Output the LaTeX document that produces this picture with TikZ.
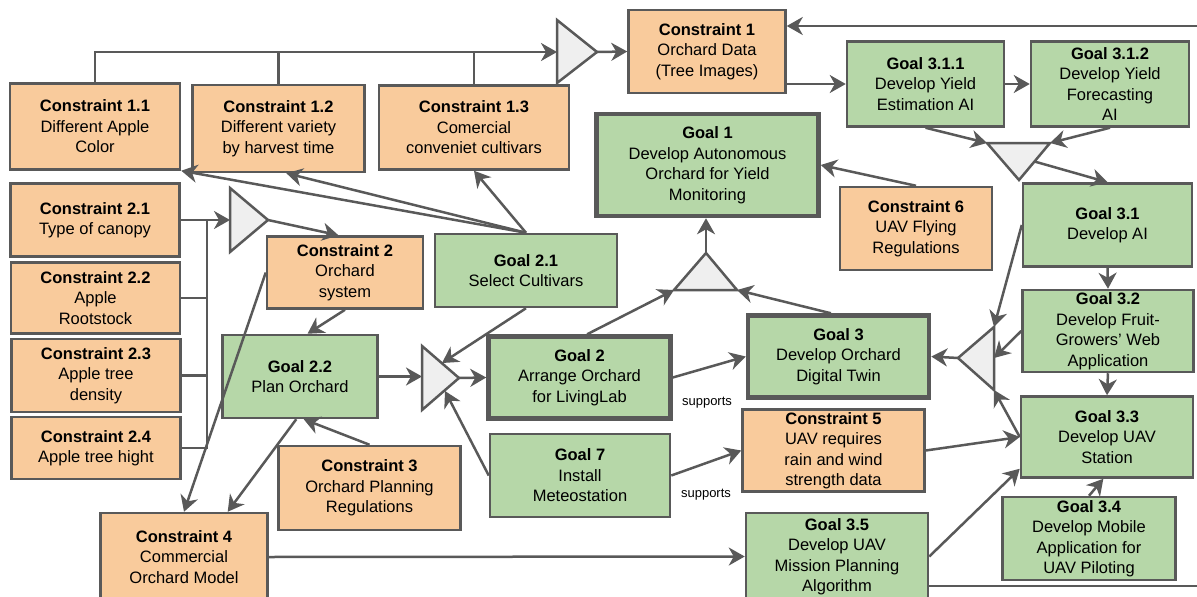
\documentclass[tikz,border=0pt]{standalone}
\usepackage{fontspec}
\setmainfont{Liberation Sans}
\usetikzlibrary{arrows.meta}
\definecolor{constrfill}{HTML}{F9CB9C}
\definecolor{goalfill}{HTML}{B6D7A8}
\definecolor{edgegray}{HTML}{595959}
\definecolor{gatefill}{HTML}{EFEFEF}
\tikzset{box/.style = {draw=edgegray, line width=2.5pt, align=center, inner sep=0pt,
                       font=\fontsize{16.5}{20.5}\selectfont}}
\tikzset{wh/.style 2 args = {minimum width=#1, minimum height=#2}}
\tikzset{constr/.style = {box, fill=constrfill}}
\tikzset{goal/.style = {box, fill=goalfill}}
\tikzset{mainbox/.style = {line width=4.5pt}}
\tikzset{gate/.style = {draw=edgegray, fill=gatefill, line width=2.5pt}}
\tikzset{link/.style = {draw=edgegray, line width=2.5pt}}
\tikzset{arr/.style = {link, -{Stealth[length=16pt, width=18pt, inset=5pt]}}}
\tikzset{lbl/.style = {font=\fontsize{13}{15}\selectfont}}

\begin{document}
\begin{tikzpicture}[x=1pt, y=-1pt]
      \useasboundingbox (0,0) rectangle (1197,597);
      \clip (0,0) rectangle (1197,597);
      \node [constr, wh={170pt}{86pt}] (c11) at (95,126.5) {\textbf{Constraint 1.1}\\Different Apple\\Color};
      \node [constr, wh={172pt}{87pt}] (c12) at (278.5,128.5) {\textbf{Constraint 1.2}\\Different variety\\by harvest time};
      \node [constr, wh={190pt}{84pt}] (c13) at (474,127.5) {\textbf{Constraint 1.3}\\Comercial\\conveniet cultivars};
      \node [constr, wh={157pt}{83pt}] (c1) at (707,51.5) {\textbf{Constraint 1}\\Orchard Data\\(Tree Images)};
      \node [goal, wh={157pt}{85pt}] (g311) at (925.5,84) {\textbf{Goal 3.1.1}\\Develop Yield\\Estimation AI};
      \node [goal, wh={158pt}{85pt}] (g312) at (1110,84) {\textbf{Goal 3.1.2}\\Develop Yield\\Forecasting\\AI};
      \node [goal, mainbox, wh={222pt}{102pt}] (g1) at (707.5,165) {\textbf{Goal 1}\\Develop Autonomous\\Orchard for Yield\\Monitoring};
      \node [constr, wh={152pt}{83pt}] (c6) at (916,228.5) {\textbf{Constraint 6}\\UAV Flying\\Regulations};
      \node [goal, wh={169pt}{83pt}] (g31) at (1107.5,225) {\textbf{Goal 3.1}\\Develop AI};
      \node [constr, wh={169pt}{73pt}] (c21) at (95,220) {\textbf{Constraint 2.1}\\Type of canopy};
      \node [constr, wh={169pt}{71pt}] (c22) at (95.5,298) {\textbf{Constraint 2.2}\\Apple\\Rootstock};
      \node [constr, wh={169pt}{73pt}] (c23) at (96,375.5) {\textbf{Constraint 2.3}\\Apple tree\\density};
      \node [constr, wh={169pt}{62pt}] (c24) at (96,448) {\textbf{Constraint 2.4}\\Apple tree hight};
      \node [constr, wh={156pt}{72pt}] (c2) at (345,272.5) {\textbf{Constraint 2}\\Orchard\\system};
      \node [goal, wh={182pt}{73pt}] (g21) at (526,270.5) {\textbf{Goal 2.1}\\Select Cultivars};
      \node [goal, wh={155pt}{83pt}] (g22) at (300,376.5) {\textbf{Goal 2.2}\\Plan Orchard};
      \node [goal, mainbox, wh={182pt}{82pt}] (g2) at (579.5,377.5) {\textbf{Goal 2}\\Arrange Orchard\\for LivingLab};
      \node [goal, mainbox, wh={181pt}{82pt}] (g3) at (838.5,356.5) {\textbf{Goal 3}\\Develop Orchard\\Digital Twin};
      \node [goal, wh={171pt}{82pt}] (g32) at (1108,331) {\textbf{Goal 3.2}\\Develop Fruit-\\Growers’ Web\\Application};
      \node [goal, wh={172pt}{81pt}] (g33) at (1107,437) {\textbf{Goal 3.3}\\Develop UAV\\Station};
      \node [goal, wh={180pt}{83pt}] (g7) at (580,475.5) {\textbf{Goal 7}\\Install\\Meteostation};
      \node [constr, wh={182pt}{82pt}] (c5) at (833.5,450.5) {\textbf{Constraint 5}\\UAV requires\\rain and wind\\strength data};
      \node [constr, wh={182pt}{84pt}] (c3) at (369.5,488) {\textbf{Constraint 3}\\Orchard Planning\\Regulations};
      \node [constr, wh={167pt}{88pt}] (c4) at (184,557) {\textbf{Constraint 4}\\Commercial\\Orchard Model};
      \node [goal, wh={182pt}{87pt}] (g35) at (837,556.5) {\textbf{Goal 3.5}\\Develop UAV\\Mission Planning\\Algorithm};
      \node [goal, wh={173pt}{83pt}] (g34) at (1089,538.5) {\textbf{Goal 3.4}\\Develop Mobile\\Application for\\UAV Piloting};
      \node [lbl] (sup1) at (707,403) {supports};
      \node [lbl] (sup2) at (706,495) {supports};
      \draw [gate] (557,20) -- (597,52) coordinate (t1out) -- (557,83) -- cycle;
      \draw [gate] (230,188) -- (268,220) coordinate (t2out) -- (230,252) -- cycle;
      \draw [gate] (422,346) -- (459,378) coordinate (t3out) -- (422,410) -- cycle;
      \draw [gate] (674,290) coordinate (t4l) -- (706,253) coordinate (t4top) -- (737,290) coordinate (t4r) -- cycle;
      \draw [gate] (987,143) coordinate (t5l) -- (1050,143) coordinate (t5r) -- (1019,180) -- cycle;
      \draw [gate] (994,327) coordinate (t6a) -- (958,358) coordinate (t6out) -- (994,390) coordinate (t6c) -- cycle;
      \coordinate (t1in) at (557,52);
      \coordinate (t2in) at (230,220);
      \coordinate (t3in) at (422,378);
      \coordinate (t3u) at (442,363);
      \coordinate (t3d) at (445,391);
      \coordinate (t5out) at (1034.5,161.5);
      \coordinate (t6b) at (994,358);
      \coordinate (bus2) at (207,220);
      \coordinate (loopin) at (1197,26);
      \coordinate (loopout) at (1197,586);
      \draw [link] (c12.north) -- (c12.north |- t1in);
      \draw [link] (c13.north) -- (c13.north |- t1in);
      \draw [arr] (c11.north) |- (t1in);
      \draw [arr] (t1out) -- (c1.west);
      \draw [arr] (g21.north) -- (c11.south east);
      \draw [arr] (g21.north) -- (c12.-80);
      \draw [arr] (g21.north) -- (c13.south);
      \draw [arr] (c21.east) -- (t2in);
      \draw [link] (c24.east) -| (bus2);
      \draw [link] (c22.east) -- (c22.east -| bus2);
      \draw [link] (c23.east) -- (c23.east -| bus2);
      \draw [arr] (t2out) -- (c2.100);
      \draw [arr] (c2.south) -- (g22.80);
      \draw [arr] (c2.west) -- (c4.north);
      \draw [arr] (g22.-95) -- (c4.46);
      \draw [arr] (c3.north) -- (g22.-85);
      \draw [arr] (g22.east) -- (g22.east -| t3in);
      \draw [arr] (g21.south) -- (t3u);
      \draw [arr] (g7.west) -- (t3d);
      \draw [arr] (t3out) -- (g2.west);
      \draw [arr] (g2.80) -- (t4l);
      \draw [arr] (g3.100) -- (t4r);
      \draw [arr] (t4top) -- (t4top |- g1.south);
      \draw [arr] (c6.north) -- (g1.east);
      \draw [arr] (g2.east) -- (g3.west);
      \draw [arr] (g7.east) -- (c5.west);
      \draw [arr] (c5.east) -- (g33.west);
      \draw [arr] (c4.east) -- (g35.west);
      \draw [arr] (g35.east) -- (g33.200);
      \draw [arr] (g34.north) -- (g33.-95);
      \draw [arr] (g31.south) -- (g32.north);
      \draw [arr] (g32.south) -- (g33.north);
      \draw [arr] (g31.west) -- (t6a);
      \draw [arr] (g32.west) -- (t6b);
      \draw [arr] (g33.west) -- (t6c);
      \draw [arr] (t6out) -- (g3.east);
      \draw [arr] (g311.south) -- (t5l);
      \draw [arr] (g312.south) -- (t5r);
      \draw [arr] (t5out) -- (g31.north);
      \draw [arr] (g311.east) -- (g312.west);
      \draw [arr] (g311.west -| c1.east) -- (g311.west);
      \draw [arr] (loopin) -- (loopin -| c1.east);
      \draw [link] (g35.east |- loopout) -- (loopout);
    \end{tikzpicture}
\end{document}
